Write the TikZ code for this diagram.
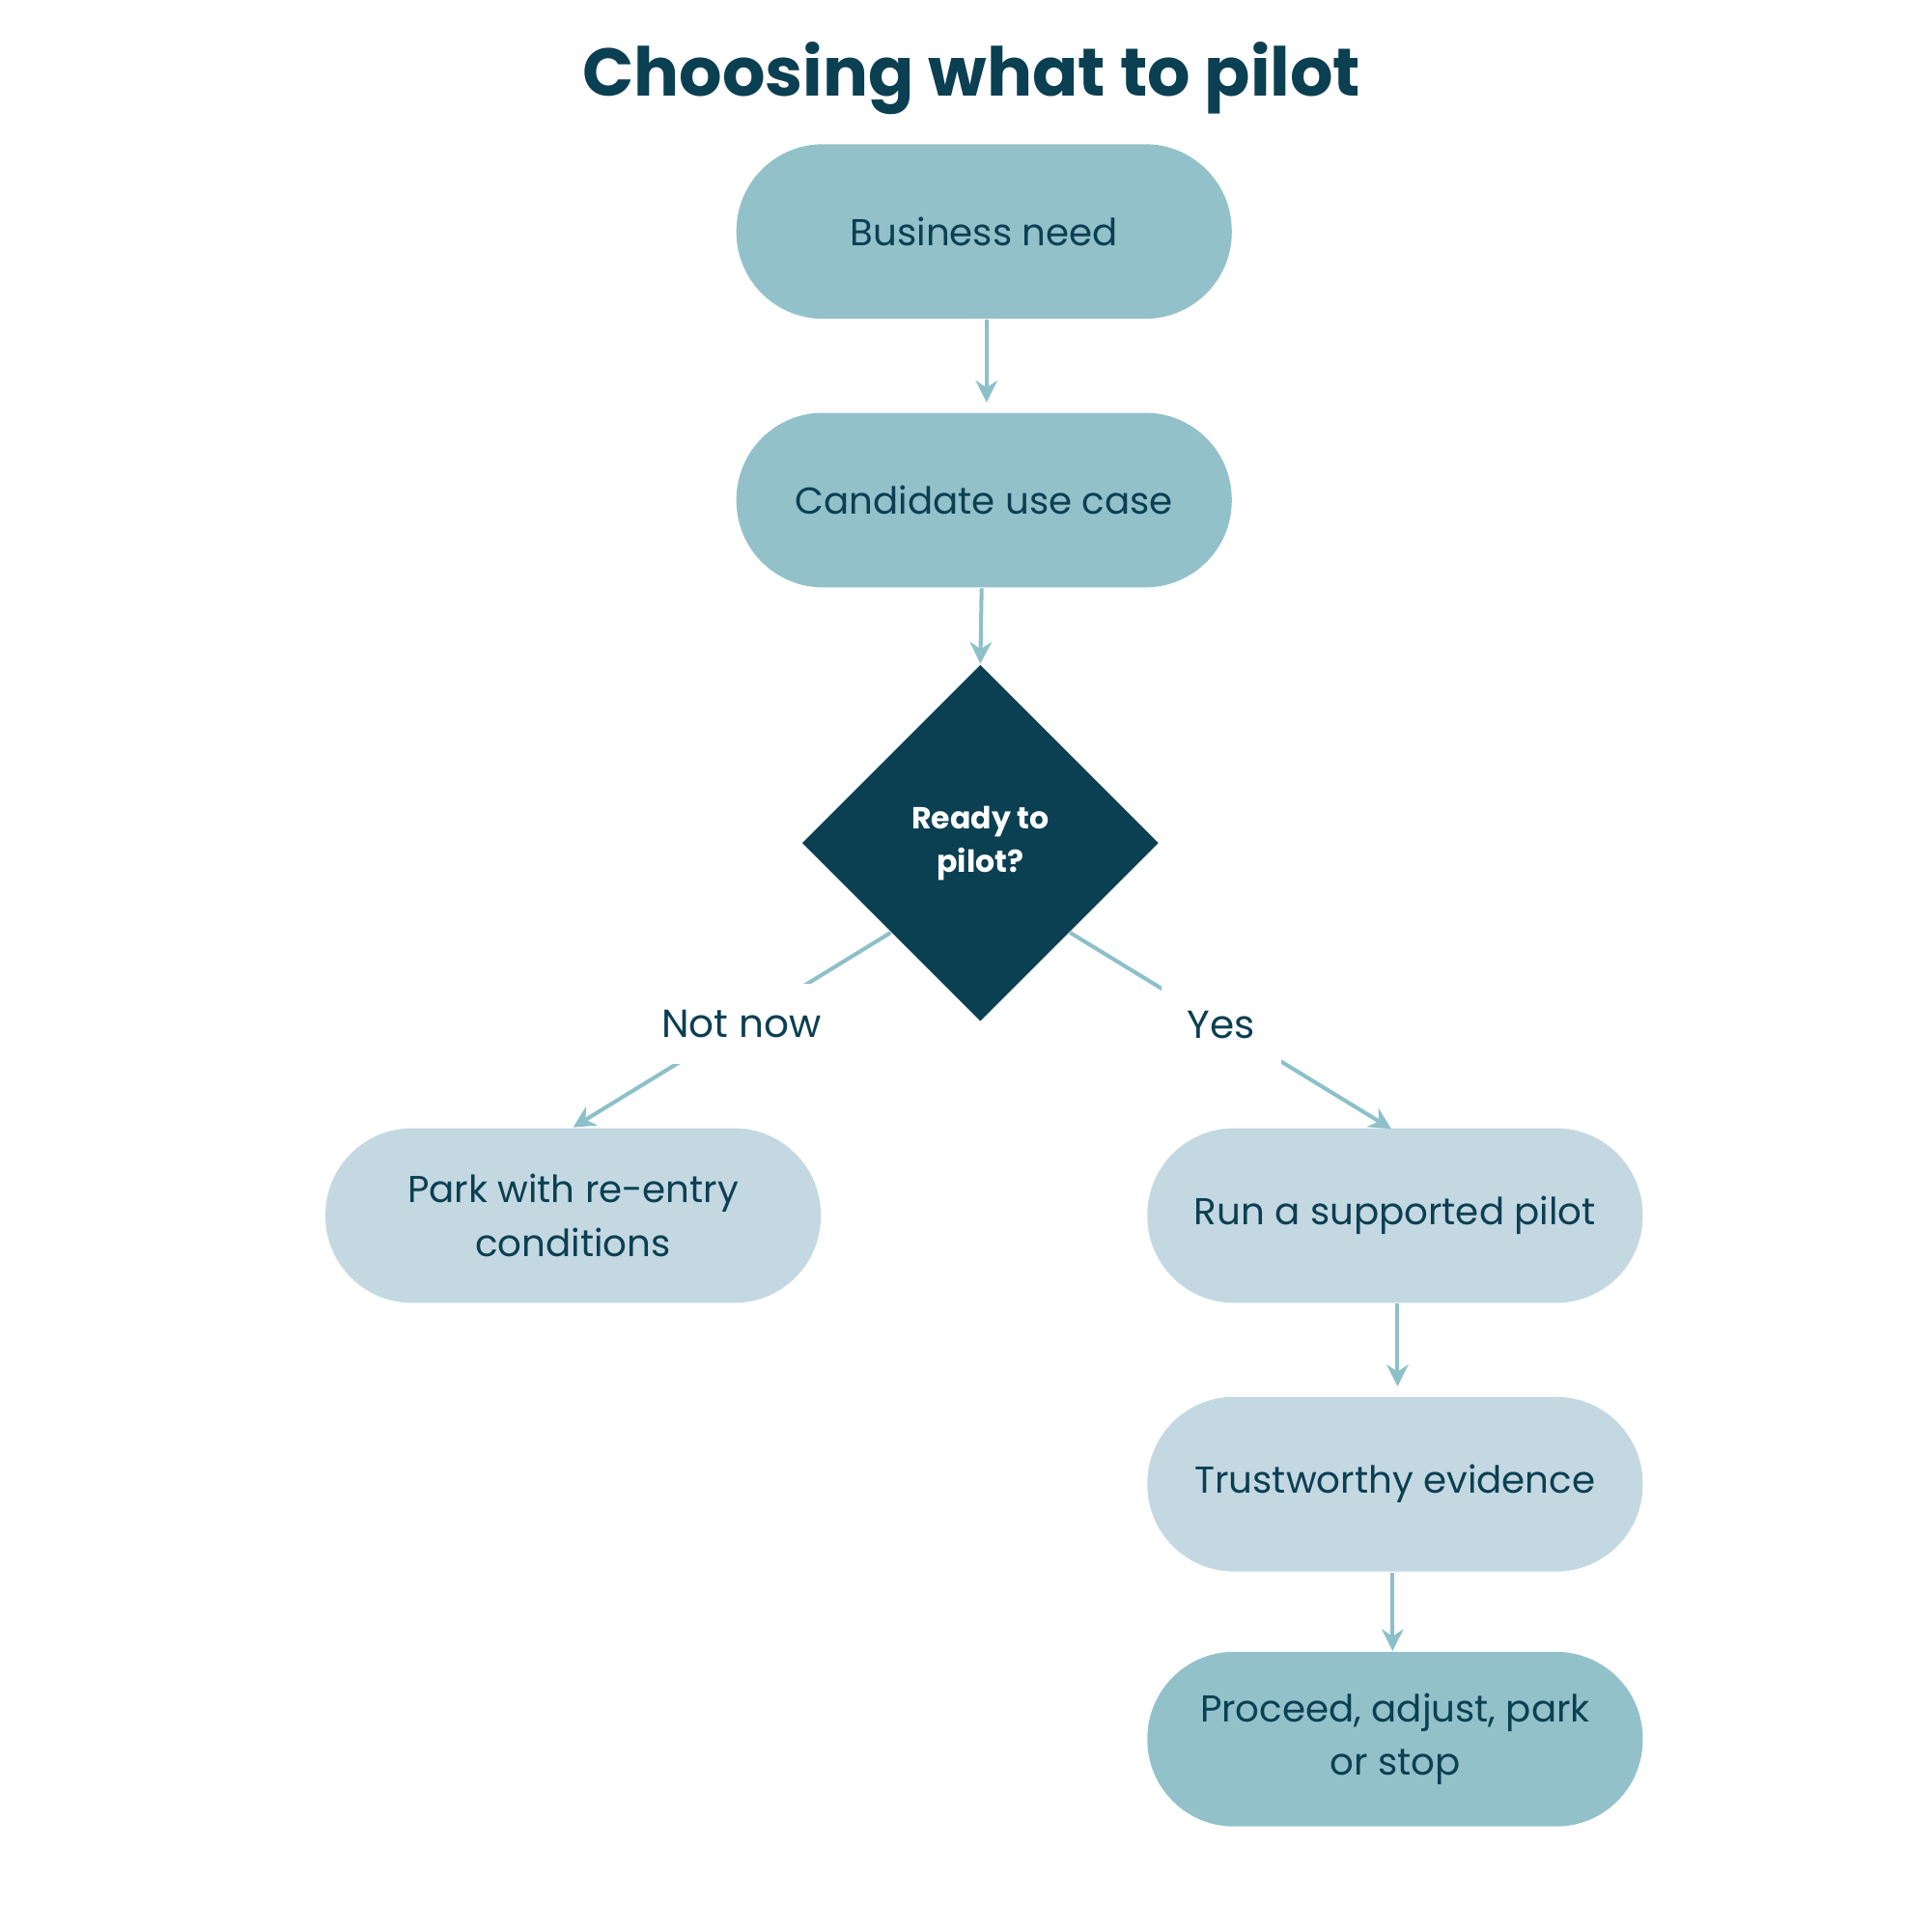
\documentclass[tikz,border=0pt]{standalone}
\usepackage{fontspec}
\setmainfont{Poppins}
\usetikzlibrary{shapes.geometric, arrows.meta}
\definecolor{navy}{HTML}{0B3F52}
\definecolor{teal}{HTML}{93C1CA}
\definecolor{pale}{HTML}{C4D8E2}
\definecolor{flow}{HTML}{8DC0C9}

\begin{document}
\begin{tikzpicture}[x=0.01cm, y=-0.01cm,
    pill/.style={rectangle, rounded corners=0.7cm, minimum width=4cm, minimum height=1.41cm,
        align=center, text=navy, font=\fontsize{8.6}{12.4}\selectfont},
    stage/.style={pill, fill=teal},
    work/.style={pill, fill=pale},
    flowline/.style={draw=flow, line width=0.9pt, -{Stealth[length=5pt, width=5pt]}},
    choice/.style={fill=white, inner sep=6pt, text=navy, font=\fontsize{9}{11}\selectfont}]
    % Frame
    \useasboundingbox (0,0) rectangle (1560,1560);

    % Title
    \node[text=navy, font=\fontsize{15.5}{18}\selectfont\bfseries] (title) at (785,63) {Choosing what to pilot};

    % Main column
    \node[stage] (need) at (795,187) {Business need};
    \node[stage] (cand) at (795,404) {Candidate use case};
    \node[diamond, fill=navy, minimum width=2.88cm, minimum height=2.88cm, inner sep=0pt,
        text=white, align=center, font=\fontsize{7}{10}\selectfont\bfseries] (ready) at (792,681) {Ready to\\pilot?};

    % Branches
    \node[work] (park) at (463,982) {Park with re-entry\\conditions};
    \node[work] (run) at (1127,982) {Run a supported pilot};
    \node[work] (trust) at (1127,1199) {Trustworthy evidence};
    \node[stage] (decide) at (1127,1405) {Proceed, adjust, park\\or stop};

    % Connectors
    \draw[flowline] (need.south -| 797,0) -- (797,325);
    \draw[flowline] (cand.south -| 793,0) -- (ready.north);
    \draw[flowline] (ready.south west) -- node[choice, pos=0.47] {Not now} (park.north);
    \draw[flowline] (ready.south east) -- node[choice, pos=0.47] {Yes} (1124,912);
    \draw[flowline] (run.south -| 1129,0) -- (1129,1120);
    \draw[flowline] (trust.south -| 1125,0) -- (decide.north -| 1125,0);
\end{tikzpicture}
\end{document}
